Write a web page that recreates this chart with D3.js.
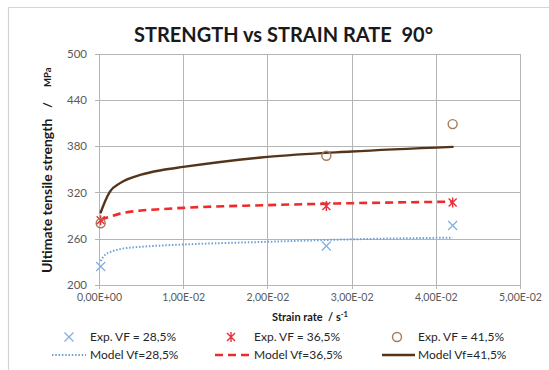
<!DOCTYPE html>
<html>
<head>
<meta charset="utf-8">
<script src="https://cdn.jsdelivr.net/npm/d3@7"></script>
<style>
  html, body { margin: 0; padding: 0; background: #fff; }
  svg { display: block; }
  text { font-family: Lato, "Open Sans", sans-serif; white-space: pre; }
</style>
</head>
<body>
<svg id="chart" width="549" height="370"></svg>
<script>
// Model curves: strain rate (1/s) and predicted strength (MPa)
const modelRate = [0.0002, 0.0007, 0.0013, 0.0025, 0.005, 0.0075, 0.01, 0.02, 0.03, 0.042];
const model285 = [231, 239, 242.5, 246.5, 249.5, 251.2, 252.5, 256, 259.2, 261.4];
const model365 = [284, 286.5, 288.7, 292.5, 296.5, 298.4, 300, 303.5, 306, 308];
const model415 = [294, 308, 321, 332, 343, 349, 353, 366, 373, 379];

// Experimental results
const expRate = [0.0002, 0.027, 0.042];
const exp285 = [224, 250.5, 277];
const exp365 = [284, 302.5, 307];
const exp415 = [280, 367.5, 408.5];

// Axis ticks
const xTicks = [0, 0.01, 0.02, 0.03, 0.04, 0.05];
const xTickLabels = ["0,00E+00", "1,00E-02", "2,00E-02", "3,00E-02", "4,00E-02", "5,00E-02"];
const yTicks = [200, 260, 320, 380, 440, 500];

const svg = d3.select("#chart");
const W = 549, H = 370;
const plot = { left: 99, right: 520, top: 53.5, bottom: 285 };

const x = d3.scaleLinear().domain([0, 0.05]).range([plot.left, plot.right]);
const y = d3.scaleLinear().domain([200, 500]).range([plot.bottom, plot.top]);

svg.append("rect").attr("width", W).attr("height", H).attr("fill", "#fff");

// chart frame (top and left edges visible)
svg.append("path")
  .attr("d", `M8.5,${H} V7.5 H${W}`)
  .attr("fill", "none").attr("stroke", "#d4d4d4").attr("stroke-width", 1.2);

// title
svg.append("text")
  .attr("x", 283.5).attr("y", 42)
  .attr("text-anchor", "middle")
  .attr("font-size", 20).attr("font-weight", "bold").attr("fill", "#1a1a1a")
  .text("STRENGTH vs STRAIN RATE\u00A0\u00A090°");

const gridColor = "#b5b5b5";

// horizontal grid + y axis
const yAxis = d3.axisLeft(y).tickValues(yTicks).tickSize(-(plot.right - plot.left)).tickPadding(12)
  .tickFormat(d3.format("d"));
const gy = svg.append("g").attr("transform", `translate(${plot.left},0)`).call(yAxis);
gy.select(".domain").remove();
gy.selectAll(".tick line").attr("stroke", gridColor).attr("x1", -4).attr("shape-rendering", "crispEdges");
gy.selectAll(".tick text").attr("fill", "#595959").attr("font-size", 11.5).attr("font-family", "Lato, sans-serif");

// vertical grid + x axis
const xAxis = d3.axisBottom(x).tickValues(xTicks).tickSize(-(plot.bottom - plot.top)).tickPadding(9)
  .tickFormat((d, i) => xTickLabels[i]);
const gx = svg.append("g").attr("transform", `translate(0,${plot.bottom})`).call(xAxis);
gx.select(".domain").remove();
gx.selectAll(".tick line").attr("stroke", gridColor).attr("y1", 4).attr("shape-rendering", "crispEdges");
gx.selectAll(".tick text").attr("fill", "#595959").attr("font-size", 10.5).attr("font-family", "Lato, sans-serif");

// axis titles
svg.append("text")
  .attr("x", 310).attr("y", 321)
  .attr("text-anchor", "middle")
  .attr("font-size", 11).attr("font-weight", "bold").attr("fill", "#1a1a1a")
  .call(t => {
    t.append("tspan").text("Strain rate\u00A0\u00A0/ s");
    t.append("tspan").attr("dy", -4).attr("font-size", 7.5).text("-1");
  });

const yTitle = svg.append("g").attr("font-weight", "bold").attr("fill", "#1a1a1a");
yTitle.append("text")
  .attr("transform", "translate(52,273) rotate(-90)")
  .attr("font-size", 14)
  .text("Ultimate tensile strength");
yTitle.append("text")
  .attr("transform", "translate(52,105) rotate(-90)")
  .attr("text-anchor", "middle")
  .attr("font-size", 12)
  .text("/");
yTitle.append("text")
  .attr("transform", "translate(51,87) rotate(-90)")
  .attr("font-size", 9.5)
  .text("MPa");

// series styles
const series = [
  { rate: modelRate, vals: model285, color: "#6f9fd6", width: 2, dash: "1.5,1.8", cap: "butt", label: "Model Vf=28,5%" },
  { rate: modelRate, vals: model365, color: "#ee2a2a", width: 2.6, dash: "8,5", cap: "butt", label: "Model Vf=36,5%" },
  { rate: modelRate, vals: model415, color: "#553519", width: 2.4, dash: null, cap: "round", label: "Model Vf=41,5%" }
];

const line = d3.line().x(d => x(d[0])).y(d => y(d[1])).curve(d3.curveMonotoneX);

series.forEach(s => {
  svg.append("path")
    .datum(s.rate.map((r, i) => [r, s.vals[i]]))
    .attr("d", line)
    .attr("fill", "none")
    .attr("stroke", s.color)
    .attr("stroke-width", s.width)
    .attr("stroke-linecap", s.cap)
    .attr("stroke-dasharray", s.dash);
});

// marker drawers
function crossMarker(g, cx, cy, color) {
  const r = 4.5;
  g.append("path")
    .attr("d", `M${cx - r},${cy - r}L${cx + r},${cy + r}M${cx - r},${cy + r}L${cx + r},${cy - r}`)
    .attr("stroke", color).attr("stroke-width", 1.3).attr("fill", "none");
}
function starMarker(g, cx, cy, color) {
  const r = 4;
  g.append("path")
    .attr("d", `M${cx - r},${cy - r}L${cx + r},${cy + r}M${cx - r},${cy + r}L${cx + r},${cy - r}M${cx},${cy - r - 1}L${cx},${cy + r + 1}`)
    .attr("stroke", color).attr("stroke-width", 1.4).attr("fill", "none");
}
function circleMarker(g, cx, cy, color) {
  g.append("circle").attr("cx", cx).attr("cy", cy).attr("r", 4.5)
    .attr("fill", "none").attr("stroke", color).attr("stroke-width", 1.4);
}

const expSeries = [
  { vals: exp285, draw: crossMarker, color: "#86aee0", label: "Exp. VF = 28,5%" },
  { vals: exp365, draw: starMarker, color: "#e8303a", label: "Exp. VF = 36,5%" },
  { vals: exp415, draw: circleMarker, color: "#a57a5a", label: "Exp. VF = 41,5%" }
];

const gm = svg.append("g");
expSeries.forEach(s => {
  expRate.forEach((r, i) => s.draw(gm, x(r), y(s.vals[i]), s.color));
});

// legend
const legendCols = [
  { mark: 69, lineFrom: 52, lineTo: 86, text: 90 },
  { mark: 231, lineFrom: 215, lineTo: 253, text: 254 },
  { mark: 397, lineFrom: 382, lineTo: 415, text: 418 }
];
const row1 = 337, row2 = 355;
const lg = svg.append("g");
expSeries.forEach((s, i) => {
  const c = legendCols[i];
  s.draw(lg, c.mark, row1, s.color);
  lg.append("text").attr("x", c.text).attr("y", row1 + 4)
    .attr("font-size", 12).attr("fill", "#262626").text(s.label);
});
series.forEach((s, i) => {
  const c = legendCols[i];
  lg.append("line").attr("x1", c.lineFrom).attr("x2", c.lineTo).attr("y1", row2).attr("y2", row2)
    .attr("stroke", s.color).attr("stroke-width", s.width).attr("stroke-dasharray", s.dash);
  lg.append("text").attr("x", c.text).attr("y", row2 + 4)
    .attr("font-size", 12).attr("fill", "#262626").text(s.label);
});
</script>
</body>
</html>
